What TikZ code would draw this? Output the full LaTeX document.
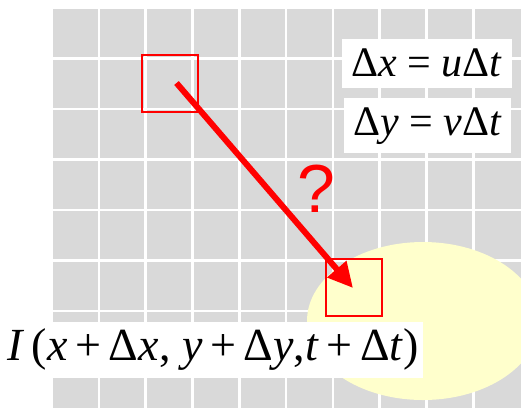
\documentclass[tikz,border=0pt]{standalone}
\usepackage{fontspec}
\setmainfont{Liberation Serif}
\newfontfamily\qfont{Liberation Sans}
\usetikzlibrary{arrows.meta}
\definecolor{cellgrey}{HTML}{D9D9D9}
\definecolor{blobyellow}{HTML}{FFFFCC}
\definecolor{markred}{HTML}{FF0000}
\newcommand{\vi}[1]{\textit{#1}}

\begin{document}
\begin{tikzpicture}[x=1pt, y=-1pt,
  cell/.style={fill=cellgrey},
  gap/.style={draw=white, line width=2.6pt},
  win/.style={draw=markred, line width=2.2pt, minimum width=56pt, minimum height=57pt, inner sep=0pt},
  flow/.style={-{Triangle[length=25pt,width=24pt]}, line width=6pt, color=markred},
  eq/.style={fill=white, inner sep=0pt, font=\fontsize{42}{46}\selectfont},
  big/.style={font=\fontsize{46}{50}\selectfont},
  ask/.style={text=markred, font=\qfont\fontsize{68}{70}\selectfont}]

\useasboundingbox (0,0) rectangle (521,408);

% ---------------- pixel grid
\fill[cell] (53.3,9.3) rectangle (521,408);
\foreach \c in {1,...,9} \draw[gap] ({53.3+46.8*\c-1.3},9.3) -- ++(0,400);
\foreach \r in {1,...,7} \draw[gap] (53.3,{9.3+50.5*\r-1.3}) -- ++(470,0);

% ---------------- moved region
\fill[blobyellow] (423,321) ellipse [x radius=116pt, y radius=79pt];

% ---------------- windows and motion
\node[win] (src) at (170,83.5) {};
\node[win] (dst) at (354,287.5) {};
\coordinate (tail) at (176.5,83);
\coordinate (tip) at (353,288);
\draw[flow] (tail) -- (tip);
\node[ask] (q) at (316,189) {?};

% ---------------- equations
\node[eq, minimum width=170pt, minimum height=49pt] (dx) at (426.7,63) {Δ\vi{x} = \vi{u}Δ\vi{t}};
\node[eq, minimum width=167pt, minimum height=55pt] (dy) at (427.3,125.8) {Δ\vi{y} = \vi{v}Δ\vi{t}};
\node[eq, big, minimum width=420pt, minimum height=56pt] (val) at (213,349.5)
  {\vi{I}\,(\vi{x}\,+\,Δ\vi{x}, \vi{y}\,+\,Δ\vi{y},\vi{t}\,+\,Δ\vi{t})};
\end{tikzpicture}
\end{document}
